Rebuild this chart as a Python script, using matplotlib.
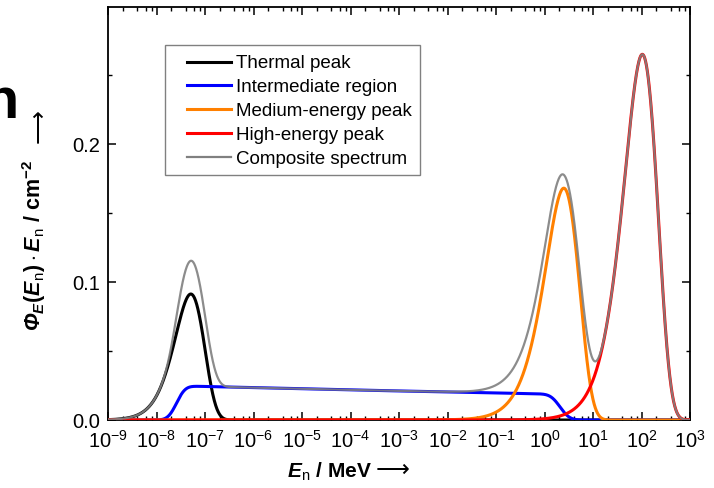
import numpy as np
import matplotlib
matplotlib.use("Agg")
import matplotlib.pyplot as plt
from matplotlib.patches import Rectangle
from matplotlib.ticker import LogLocator, FixedLocator, NullFormatter, MultipleLocator
from math import erf

plt.rcParams['font.family'] = ['Liberation Sans', 'DejaVu Sans']
plt.rcParams['mathtext.fontset'] = 'custom'
plt.rcParams['mathtext.rm'] = 'Liberation Sans:bold'
plt.rcParams['mathtext.bf'] = 'Liberation Sans:bold'
plt.rcParams['mathtext.it'] = 'Liberation Sans:italic:bold'
plt.rcParams['mathtext.bfit'] = 'Liberation Sans:italic:bold'
plt.rcParams['mathtext.sf'] = 'Liberation Sans'
plt.rcParams['axes.unicode_minus'] = False

# ---- spectrum components (energies in MeV, values in cm^-2) ----
labels = ["Thermal peak", "Intermediate region", "Medium-energy peak",
          "High-energy peak", "Composite spectrum"]
colors = ["#000000", "#0000ff", "#ff8000", "#ff0000", "#808080"]

# peaked components: energy of maximum, height of maximum, spectral index
thermal_peak = [5.1e-8, 0.0913, 2.0]
medium_peak = [2.5, 0.168, 1.5]
high_peak = [104.0, 0.265, 1.54]

# intermediate plateau: levels at 1e-7 MeV and 1e-1 MeV
plateau_energies = [1e-7, 1e-1]
plateau_levels = [0.0243, 0.0196]
# lower / upper cut-off energies (half height) and their widths in decades
cutoff_energies = [2.6e-8, 2.1]
cutoff_widths = [0.2, 0.22]

energy = np.logspace(-9, 3, 3000)
lg = np.log10(energy)
verf = np.vectorize(erf)


def peak(e, p):
    e0, h, a = p
    x = e / e0
    return h * x ** a * np.exp(-a * (x - 1.0))


slope = np.log10(plateau_levels[1] / plateau_levels[0]) / np.log10(
    plateau_energies[1] / plateau_energies[0])
plateau = plateau_levels[0] * (energy / plateau_energies[0]) ** slope
low_step = 0.5 * (1 + verf((lg - np.log10(cutoff_energies[0])) / cutoff_widths[0]))
high_step = 0.5 * (1 - verf((lg - np.log10(cutoff_energies[1])) / cutoff_widths[1]))

thermal = peak(energy, thermal_peak)
intermediate = plateau * low_step * high_step
medium = peak(energy, medium_peak)
high = peak(energy, high_peak)
composite = thermal + intermediate + medium + high

series = [thermal, intermediate, medium, high, composite]

W, H = 714, 488
fig = plt.figure(figsize=(W / 100, H / 100), dpi=100)
ax = fig.add_axes([108 / W, 68 / H, 582 / W, 413 / H])

lines = []
for i, (y, c, lab) in enumerate(zip(series, colors, labels)):
    if i < 4:
        ln, = ax.plot(energy, y, color=c, lw=2.2, label=lab, zorder=2 + i)
    else:
        ln, = ax.plot(energy, y, color=c, lw=1.6, alpha=0.9, label=lab, zorder=7)
    lines.append(ln)

ax.set_xscale('log')
ax.set_xlim(1e-9, 1e3)
ax.set_ylim(0, 0.2993)

ax.xaxis.set_major_locator(LogLocator(base=10, numticks=20))
ax.xaxis.set_minor_locator(LogLocator(base=10, subs=[2, 4, 6, 8], numticks=20))
ax.xaxis.set_minor_formatter(NullFormatter())
ax.yaxis.set_major_locator(FixedLocator([0.0, 0.1, 0.2]))
ax.yaxis.set_minor_locator(MultipleLocator(0.05))
ax.set_yticklabels(['0.0', '0.1', '0.2'])

for s in ax.spines.values():
    s.set_linewidth(1.3)
ax.tick_params(which='both', direction='in', top=True, right=True, labelsize=14.5)
ax.tick_params(which='major', length=6, width=1.1)
ax.tick_params(which='minor', length=3, width=1.0)
ax.tick_params(axis='x', pad=7)
ax.tick_params(axis='y', pad=6)

# axis titles, each followed by a long arrow
fig.text(329 / W, 1 - 472 / H, r'$\mathbfit{E}_{\mathsf{n}}$ / MeV',
         fontsize=15, fontweight='bold', ha='center', va='center')
fig.text(393 / W, 1 - 470 / H, '⟶', family='DejaVu Sans', fontsize=17,
         ha='center', va='center')
fig.text(34 / W, 1 - 245 / H,
         r'$\mathbfit{Φ}_{\mathbfit{E}}\mathrm{(}\mathbfit{E}_{\mathsf{n}}\mathrm{)\cdot}\mathbfit{E}_{\mathsf{n}}$ / cm$^{\mathrm{-2}}$',
         fontsize=15.5, fontweight='bold', rotation=90, ha='center', va='center')
fig.text(38 / W, 1 - 126 / H, '⟶', family='DejaVu Sans', fontsize=17,
         rotation=90, ha='center', va='center')

# legend with a plain rectangular frame
leg = ax.legend(handles=lines, labels=labels, loc='upper left',
                bbox_to_anchor=((186.7 - 108) / 582, (420 - 55) / 413),
                frameon=False, fontsize=13.5, borderpad=0, borderaxespad=0,
                handlelength=2.35, handletextpad=0.3, labelspacing=0.36)
for h in leg.legend_handles:
    h.set_alpha(1)
ax.add_patch(Rectangle(((165 - 108) / 582, (420 - 175) / 413),
                       (420 - 165) / 582, 130 / 413, transform=ax.transAxes,
                       fill=False, edgecolor='#808080', lw=1.0, zorder=10))

fig.text(18.5 / W, (H - 118) / H, 'n', fontsize=41.6, fontweight='bold',
         ha='right', va='baseline')

fig.savefig('out.png', dpi=100)
